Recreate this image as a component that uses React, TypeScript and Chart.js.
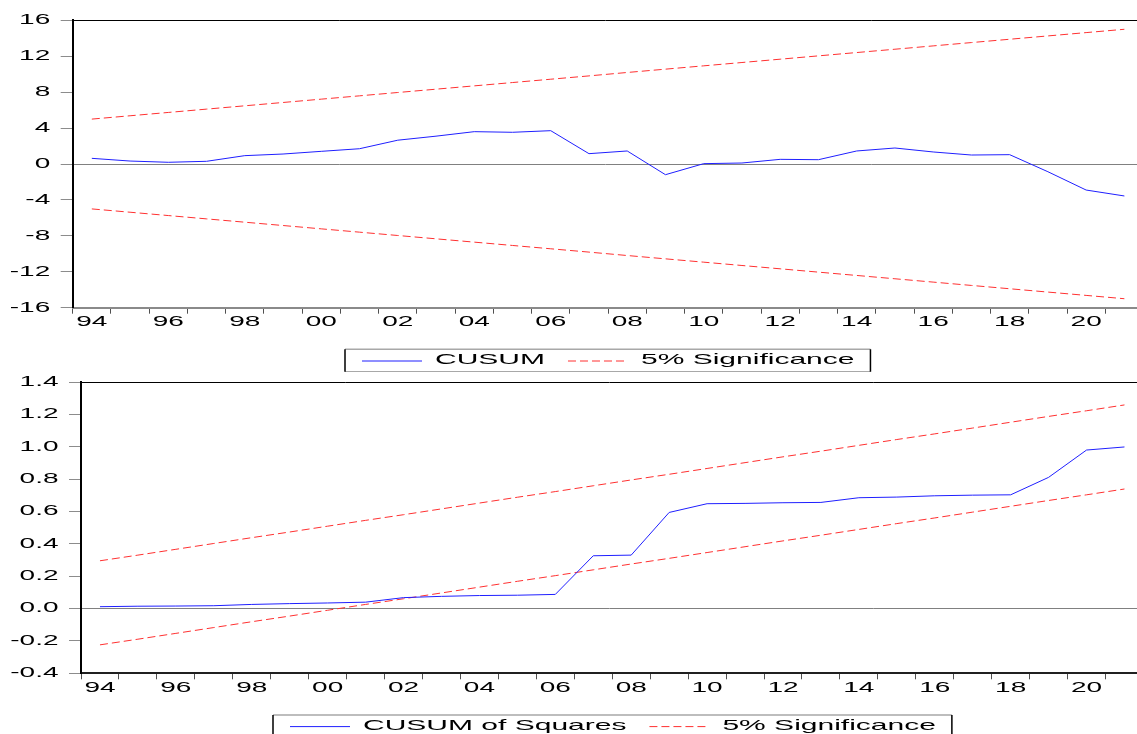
import { useEffect, useRef } from 'react';
import { Chart, registerables } from 'chart.js';

Chart.register(...registerables);

// ---------------- data ----------------
const YEARS = [
  1994, 1995, 1996, 1997, 1998, 1999, 2000, 2001, 2002, 2003, 2004, 2005, 2006, 2007,
  2008, 2009, 2010, 2011, 2012, 2013, 2014, 2015, 2016, 2017, 2018, 2019, 2020, 2021,
];
const X_LABEL_YEARS = [1994, 1996, 1998, 2000, 2002, 2004, 2006, 2008, 2010, 2012, 2014, 2016, 2018, 2020];

const CUSUM = [
  0.63, 0.33, 0.19, 0.3, 0.93, 1.11, 1.41, 1.7, 2.65, 3.1, 3.6, 3.53, 3.71, 1.15,
  1.45, -1.19, 0.04, 0.11, 0.52, 0.48, 1.45, 1.78, 1.34, 1.0, 1.04, -0.86, -2.9, -3.56,
];
const CUSUM_UPPER = [
  5.0, 5.37, 5.74, 6.11, 6.48, 6.85, 7.22, 7.59, 7.96, 8.33, 8.7, 9.07, 9.44, 9.81,
  10.19, 10.56, 10.93, 11.3, 11.67, 12.04, 12.41, 12.78, 13.15, 13.52, 13.89, 14.26, 14.63, 15.0,
];
const CUSUM_LOWER = [
  -5.0, -5.37, -5.74, -6.11, -6.48, -6.85, -7.22, -7.59, -7.96, -8.33, -8.7, -9.07, -9.44, -9.81,
  -10.19, -10.56, -10.93, -11.3, -11.67, -12.04, -12.41, -12.78, -13.15, -13.52, -13.89, -14.26, -14.63, -15.0,
];

const CUSUMSQ = [
  0.012, 0.015, 0.016, 0.018, 0.026, 0.031, 0.035, 0.04, 0.068, 0.076, 0.081, 0.083, 0.088, 0.327,
  0.331, 0.595, 0.649, 0.651, 0.655, 0.657, 0.686, 0.69, 0.698, 0.702, 0.704, 0.812, 0.981, 1.0,
];
const CUSUMSQ_UPPER = [
  0.296, 0.331, 0.367, 0.403, 0.439, 0.474, 0.51, 0.546, 0.581, 0.617, 0.653, 0.689, 0.724, 0.76,
  0.796, 0.831, 0.867, 0.903, 0.939, 0.974, 1.01, 1.046, 1.081, 1.117, 1.153, 1.189, 1.224, 1.26,
];
const CUSUMSQ_LOWER = [
  -0.224, -0.189, -0.153, -0.117, -0.081, -0.046, -0.01, 0.026, 0.061, 0.097, 0.133, 0.169, 0.204, 0.24,
  0.276, 0.311, 0.347, 0.383, 0.419, 0.454, 0.49, 0.526, 0.561, 0.597, 0.633, 0.669, 0.704, 0.74,
];

const CUSUM_Y = { min: -16, max: 16, step: 4 };
const CUSUMSQ_Y = { min: -0.4, max: 1.4, step: 0.2 };

// ---------------- styling ----------------
const BLUE = '#1f1fff';
const RED = '#ff3030';
const DASH = [8, 4];
const FONT = '"Liberation Sans", Arial, Helvetica, sans-serif';
const SX = 2.0; // horizontal stretch of the text, as in the reference picture
const X_MIN = 1993.5;
const X_MAX = 2021.33;

function stretchContext(ctx: any) {
  const origFill = ctx.fillText.bind(ctx);
  const origMeasure = ctx.measureText.bind(ctx);
  ctx.fillText = (text: string, x: number, y: number, maxWidth?: number) => {
    ctx.save();
    ctx.translate(x, y);
    ctx.scale(SX, 1);
    if (maxWidth === undefined || maxWidth === null) origFill(text, 0, 0);
    else origFill(text, 0, 0, maxWidth / SX);
    ctx.restore();
  };
  ctx.measureText = (text: string) => {
    const m = origMeasure(text);
    return {
      width: m.width * SX,
      actualBoundingBoxAscent: m.actualBoundingBoxAscent,
      actualBoundingBoxDescent: m.actualBoundingBoxDescent,
      actualBoundingBoxLeft: m.actualBoundingBoxLeft * SX,
      actualBoundingBoxRight: m.actualBoundingBoxRight * SX,
      fontBoundingBoxAscent: m.fontBoundingBoxAscent,
      fontBoundingBoxDescent: m.fontBoundingBoxDescent,
    };
  };
  return ctx;
}

type LegendItem = { text: string; color: string; dash: number[] };

function boxLegend(items: LegendItem[]) {
  return {
    id: 'boxLegend',
    afterDraw(chart: any) {
      const ctx = chart.ctx;
      const area = chart.chartArea;
      const xs = chart.scales.x;
      const plotRight = xs.getPixelForValue(YEARS[YEARS.length - 1] + 0.5);
      const center = (area.left + plotRight) / 2;
      ctx.save();
      ctx.font = `15px ${FONT}`;
      const padL = 17, sample = 60, gapText = 13, gapItem = 23, padR = 16, h = 22.4;
      const widths = items.map((it) => ctx.measureText(it.text).width);
      let total = padL + padR + gapItem * (items.length - 1);
      widths.forEach((w) => (total += sample + gapText + w));
      const left = Math.round(center - total / 2);
      const top = area.bottom + 41.6;
      // frame
      ctx.lineWidth = 1.5;
      ctx.strokeStyle = '#a8a8a8';
      ctx.beginPath();
      ctx.moveTo(left, top);
      ctx.lineTo(left + total, top);
      ctx.moveTo(left, top + h);
      ctx.lineTo(left + total, top + h);
      ctx.stroke();
      ctx.strokeStyle = '#000';
      ctx.beginPath();
      ctx.moveTo(left, top);
      ctx.lineTo(left, top + h);
      ctx.moveTo(left + total, top);
      ctx.lineTo(left + total, top + h);
      ctx.stroke();
      // items
      let x = left + padL;
      items.forEach((it, i) => {
        ctx.strokeStyle = it.color;
        ctx.lineWidth = 1;
        ctx.setLineDash(it.dash);
        ctx.beginPath();
        ctx.moveTo(x, top + 11.7);
        ctx.lineTo(x + sample, top + 11.7);
        ctx.stroke();
        ctx.setLineDash([]);
        x += sample + gapText;
        ctx.fillStyle = '#000';
        ctx.textAlign = 'left';
        ctx.textBaseline = 'alphabetic';
        ctx.fillText(it.text, x, top + 15);
        x += widths[i] + gapItem;
      });
      ctx.restore();
    },
  };
}

function xTicks() {
  const t: number[] = [];
  YEARS.forEach((y) => {
    t.push(y - 0.5);
    if (X_LABEL_YEARS.includes(y)) t.push(y);
  });
  return t.filter((v) => v >= X_MIN && v <= X_MAX);
}

type Cfg = {
  series: number[];
  upper: number[];
  lower: number[];
  y: { min: number; max: number; step: number };
  fmt: (v: number) => string;
  yWidth: number;
  padTop: number;
  xHeight: number;
  xBorder: string;
  labelName: string;
};

function makeConfig(c: Cfg): any {
  const pts = (arr: number[]) => YEARS.map((yr, i) => ({ x: yr, y: arr[i] }));
  return {
    type: 'line',
    data: {
      datasets: [
        { label: c.labelName, data: pts(c.series), borderColor: BLUE, borderWidth: 1, pointRadius: 0, tension: 0 },
        { label: '5% Significance', data: pts(c.upper), borderColor: RED, borderWidth: 1, borderDash: DASH, pointRadius: 0, tension: 0 },
        { label: '5% Significance lower', data: pts(c.lower), borderColor: RED, borderWidth: 1, borderDash: DASH, pointRadius: 0, tension: 0 },
      ],
    },
    options: {
      animation: false,
      responsive: false,
      events: [],
      layout: { padding: { top: c.padTop, left: 0, right: 0, bottom: 0 } },
      plugins: { legend: { display: false }, tooltip: { enabled: false }, title: { display: false } },
      scales: {
        x: {
          type: 'linear',
          min: X_MIN,
          max: X_MAX,
          afterBuildTicks: (scale: any) => {
            scale.ticks = xTicks().map((v) => ({ value: v }));
          },
          afterFit: (scale: any) => {
            scale.height = c.xHeight;
            scale.paddingLeft = 0;
            scale.paddingRight = 0;
          },
          border: { display: true, color: c.xBorder, width: 2 },
          grid: {
            drawOnChartArea: false,
            tickLength: 6,
            tickWidth: 1,
            tickColor: (ctx: any) => (Number.isInteger(ctx.tick.value) ? 'rgba(0,0,0,0)' : '#505050'),
          },
          ticks: {
            autoSkip: false,
            maxRotation: 0,
            minRotation: 0,
            padding: 0,
            color: '#000',
            font: { size: 14, family: FONT },
            callback: (v: number) => (Number.isInteger(v) ? String(v % 100).padStart(2, '0') : ''),
          },
        },
        y: {
          type: 'linear',
          min: c.y.min,
          max: c.y.max,
          afterFit: (scale: any) => {
            scale.width = c.yWidth;
            scale.paddingTop = 0;
            scale.paddingBottom = 0;
          },
          border: { display: true, color: '#000', width: 2 },
          grid: {
            drawOnChartArea: true,
            lineWidth: 1,
            color: (ctx: any) => {
              const v = ctx.tick.value;
              if (Math.abs(v) < 1e-9) return '#808080';
              if (Math.abs(v - c.y.max) < 1e-9) return '#000';
              return 'rgba(0,0,0,0)';
            },
            tickColor: '#8c8c8c',
            tickLength: 12,
            tickWidth: 1,
          },
          ticks: {
            stepSize: c.y.step,
            padding: 10.5,
            color: '#000',
            font: { size: 14, family: FONT },
            callback: (v: number) => c.fmt(Math.abs(v) < 1e-9 ? 0 : v),
          },
        },
      },
    },
  };
}

function Panel(props: { cfg: Cfg; legend: LegendItem[]; width: number; height: number; top: number }) {
  const ref = useRef<HTMLCanvasElement>(null);
  useEffect(() => {
    const canvas = ref.current!;
    const ctx = stretchContext(canvas.getContext('2d'));
    const config = makeConfig(props.cfg);
    config.plugins = [boxLegend(props.legend)];
    const chart = new Chart(ctx, config);
    return () => chart.destroy();
  }, []);
  return (
    <canvas
      ref={ref}
      width={props.width}
      height={props.height}
      style={{ position: 'absolute', left: 0, top: props.top, width: props.width, height: props.height, display: 'block' }}
    />
  );
}

export default function App() {
  Chart.defaults.font.family = FONT;
  const topCfg: Cfg = {
    series: CUSUM,
    upper: CUSUM_UPPER,
    lower: CUSUM_LOWER,
    y: CUSUM_Y,
    fmt: (v) => String(Math.round(v)),
    yWidth: 72.7,
    padTop: 20.3,
    xHeight: 372 - 307.7,
    xBorder: '#8a8a8a',
    labelName: 'CUSUM',
  };
  const botCfg: Cfg = {
    series: CUSUMSQ,
    upper: CUSUMSQ_UPPER,
    lower: CUSUMSQ_LOWER,
    y: CUSUMSQ_Y,
    fmt: (v) => v.toFixed(1),
    yWidth: 81,
    padTop: 10.3,
    xHeight: 362 - 301.3,
    xBorder: '#202020',
    labelName: 'CUSUM of Squares',
  };
  return (
    <div style={{ position: 'fixed', left: 0, top: 0, width: 1137, height: 734, background: '#fff', overflow: 'hidden' }}>
      <Panel
        cfg={topCfg}
        legend={[
          { text: 'CUSUM', color: BLUE, dash: [] },
          { text: '5% Significance', color: RED, dash: DASH },
        ]}
        width={1137}
        height={372}
        top={0}
      />
      <Panel
        cfg={botCfg}
        legend={[
          { text: 'CUSUM of Squares', color: BLUE, dash: [] },
          { text: '5% Significance', color: RED, dash: DASH },
        ]}
        width={1137}
        height={362}
        top={372}
      />
    </div>
  );
}
